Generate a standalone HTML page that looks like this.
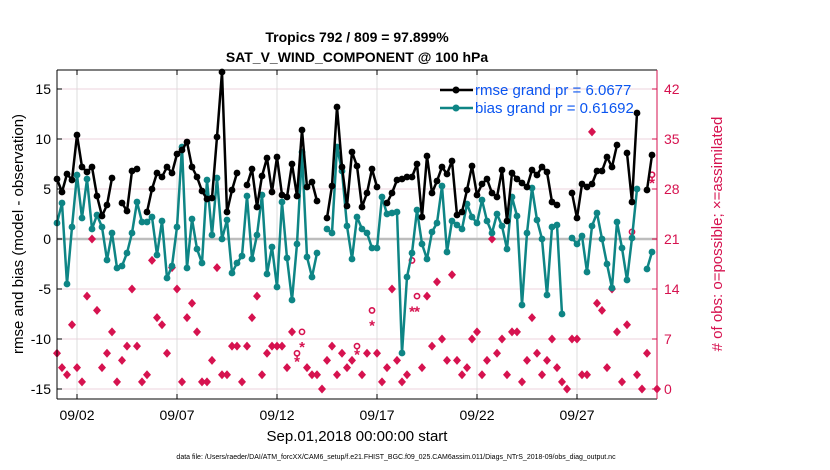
<!DOCTYPE html>
<html><head><meta charset="utf-8"><style>
html,body{margin:0;padding:0;background:#fff;}
svg{display:block;font-family:"Liberation Sans",Arial,sans-serif;}
</style></head><body>
<svg id="chart" width="830" height="470" viewBox="0 0 830 470" xmlns="http://www.w3.org/2000/svg">
<rect width="830" height="470" fill="#fff"/>
<text x="357" y="42" text-anchor="middle" font-size="14" font-weight="bold">Tropics 792 / 809 = 97.899%</text>
<text x="357" y="62" text-anchor="middle" font-size="14" font-weight="bold">SAT_V_WIND_COMPONENT @ 100 hPa</text>
<g id="grid"></g>
<g id="marks"></g>
<g id="axes"></g>
<text transform="translate(23,234) rotate(-90)" text-anchor="middle" font-size="15">rmse and bias (model - observation)</text>
<text transform="translate(722,234) rotate(-90)" text-anchor="middle" font-size="15" fill="#d6124f"># of obs: o=possible; ×=assimilated</text>
<text x="357" y="441" text-anchor="middle" font-size="15">Sep.01,2018 00:00:00 start</text>
<text x="396" y="459" text-anchor="middle" font-size="7">data file: /Users/raeder/DAI/ATM_forcXX/CAM6_setup/f.e21.FHIST_BGC.f09_025.CAM6assim.011/Diags_NTrS_2018-09/obs_diag_output.nc</text>
<g>
<line x1="440" y1="90" x2="473" y2="90" stroke="#000" stroke-width="2.5"/><circle cx="456" cy="90" r="3.5" fill="#000"/>
<text x="475" y="95" font-size="15" fill="#0a55f0">rmse grand pr = 6.0677</text>
<line x1="440" y1="108" x2="473" y2="108" stroke="#0e8585" stroke-width="2.5"/><circle cx="456" cy="108" r="3.5" fill="#0e8585"/>
<text x="475" y="113" font-size="15" fill="#0a55f0">bias grand pr = 0.61692</text>
</g>
</svg>
<script>
const N=null;
const rmse=[6.0,4.7,6.5,5.9,10.4,7.2,6.7,7.2,4.3,2.3,3.4,6.1,N,3.6,2.8,6.8,7.0,N,2.7,5.0,6.6,6.2,7.2,6.6,8.5,8.9,9.7,7.2,6.2,4.8,4.0,4.1,10.2,16.7,2.7,4.9,6.6,N,5.4,7.0,3.2,6.3,8.1,4.7,8.2,4.4,4.2,7.5,4.3,10.9,5.2,5.7,3.8,N,2.1,5.3,13.2,7.2,3.3,8.7,7.3,3.2,4.6,7.0,5.2,N,3.6,4.6,5.9,6.0,6.2,6.2,7.5,2.2,8.3,4.6,5.8,7.2,6.5,7.8,2.4,2.7,4.9,7.3,4.4,5.5,6.0,4.6,4.2,6.9,1.8,6.6,6.0,5.6,5.2,6.9,6.4,7.2,6.7,3.7,3.4,N,N,4.6,2.1,5.5,5.2,5.5,6.8,6.8,8.2,7.2,9.4,N,8.6,3.7,12.6,N,4.9,8.4,N];
const bias=[1.6,3.6,-4.5,1.2,6.4,2.1,6.0,1.0,2.4,1.2,-2.1,0.6,-2.9,-2.7,-1.4,0.6,3.7,1.7,1.7,2.2,-1.6,1.8,-3.9,-2.7,1.2,9.2,-2.9,2.0,-1.0,-2.4,5.9,0.4,6.1,0.0,1.9,-3.4,-2.4,-1.7,4.3,-2.0,0.4,4.4,-3.5,-0.8,-4.8,3.7,-1.9,-6.1,-0.5,8.7,-1.8,-3.8,-1.4,N,1.0,0.6,9.2,6.8,1.3,-2.0,2.2,1.0,0.6,-0.9,-0.9,4.2,2.5,2.6,2.7,-11.4,-3.8,-1.4,2.9,-0.5,-2.0,0.7,1.6,5.3,-1.3,1.8,1.4,1.0,3.5,2.2,1.6,3.9,1.8,0.6,2.5,1.3,-1.0,4.2,2.3,-6.6,0.6,5.1,1.9,0.0,-5.6,1.2,1.4,-7.5,N,0.1,-0.5,0.3,-3.3,1.3,2.6,0.0,-2.5,-4.9,1.7,-0.9,-4.1,0.1,5.0,N,-3.0,-1.3,N];
const nAssim=[5,3,2,9,3,1,13,21,11,3,5,8,1,4,6,14,6,1,2,18,10,9,5,17,14,1,10,12,8,1,1,4,17,2,2,6,6,1,6,10,13,2,5,6,6,6,3,8,4,6,3,2,2,0,4,6,2,5,3,4,5,2,5,9,5,1,3,14,4,1,2,11,11,3,13,6,15,7,4,16,4,2,3,7,8,2,4,21,5,7,2,8,8,1,4,10,5,2,4,7,3,1,0,7,7,2,2,36,12,11,3,14,8,1,9,21,2,0,5,29,0];
const nPoss=[5,3,2,9,3,1,13,21,11,3,5,8,1,4,6,14,6,1,2,18,10,9,5,17,14,1,10,12,8,1,1,4,17,2,2,6,6,1,6,10,13,2,5,6,6,6,3,8,5,8,3,2,2,0,4,6,2,5,3,4,6,2,5,11,5,1,3,14,4,1,2,18,13,3,13,6,15,7,4,16,4,2,3,7,8,2,4,21,5,7,2,8,8,1,4,10,5,2,4,7,3,1,0,7,7,2,2,36,12,11,3,14,8,1,9,22,2,0,5,30,0];
const leftTicks=[15,10,5,0,-5,-10,-15];
const rightTicks=[0,7,14,21,28,35,42];
const dateLabels=["09/02","09/07","09/12","09/17","09/22","09/27"];
const dateDays=[1,6,11,16,21,26];

const X0=57,X1=657,Y0=70,Y1=399;
const xIdx=i=>X0+i*5;          // 6-hourly steps, 20px/day
const xDay=d=>X0+d*20;
const yL=v=>239-v*10;
const yR=c=>389-c*(150/21);
const NS="http://www.w3.org/2000/svg";
function mk(tag,attrs,parent){const e=document.createElementNS(NS,tag);for(const k in attrs)e.setAttribute(k,attrs[k]);parent.appendChild(e);return e;}
const grid=document.getElementById('grid'),marks=document.getElementById('marks'),axes=document.getElementById('axes');
const MAG="#d6124f",TEAL="#0e8585";

leftTicks.forEach(v=>{const l=mk('line',{x1:X0,x2:X1,y1:yL(v),y2:yL(v),stroke:'#ecd3dc','stroke-width':1},grid);

});
dateDays.forEach(d=>{const l=mk('line',{x1:xDay(d),x2:xDay(d),y1:Y0,y2:Y1,stroke:'#dcdcdc','stroke-width':1},grid);

});
const zl=mk('line',{x1:X0,x2:X1,y1:yL(0),y2:yL(0),stroke:'#bdbdbd','stroke-width':2.5},grid);



// obs counts
nPoss.forEach((c,i)=>{if(c!==nAssim[i]){const e=mk('circle',{cx:xIdx(i),cy:yR(c),r:2.6,fill:'none',stroke:MAG,'stroke-width':1.6},marks);

}});
nAssim.forEach((c,i)=>{const x=xIdx(i),y=yR(c);let e;
if(c!==nPoss[i]){e=mk('text',{x:x,y:y+6,'text-anchor':'middle','font-size':15,'font-weight':'bold',fill:MAG},marks);e.textContent='*';}
else{e=mk('path',{d:`M${x},${y-4.5}L${x+4},${y}L${x},${y+4.5}L${x-4},${y}Z`,fill:MAG},marks);}

});

function series(vals,color,name){
  let segs=[],cur=[];
  vals.forEach((v,i)=>{if(v===null){if(cur.length)segs.push(cur);cur=[];}else cur.push([xIdx(i),yL(v)]);});
  if(cur.length)segs.push(cur);
  segs.forEach(s=>{if(s.length>1){const p=mk('polyline',{points:s.map(q=>q.join(',')).join(' '),fill:'none',stroke:color,'stroke-width':2.5,'stroke-linejoin':'round'},marks);
  
  }});
  vals.forEach((v,i)=>{if(v===null)return;const c=mk('circle',{cx:xIdx(i),cy:yL(v),r:3.4,fill:color},marks);
  
  });
}
series(bias,TEAL,'bias');
series(rmse,'#000','rmse');

// axes frame
let a=mk('line',{x1:X0,x2:X1,y1:Y0,y2:Y0,stroke:'#000','stroke-width':1},axes);
a=mk('line',{x1:X0,x2:X1,y1:Y1,y2:Y1,stroke:'#000','stroke-width':1},axes);
a=mk('line',{x1:X0,x2:X0,y1:Y0,y2:Y1,stroke:'#000','stroke-width':1},axes);
a=mk('line',{x1:X1,x2:X1,y1:Y0,y2:Y1,stroke:MAG,'stroke-width':1},axes);
leftTicks.forEach(v=>{mk('line',{x1:X0,x2:X0+5,y1:yL(v),y2:yL(v),stroke:'#000'},axes);
const t=mk('text',{x:X0-6,y:yL(v)+5,'text-anchor':'end','font-size':14},axes);t.textContent=v;

});
rightTicks.forEach(v=>{mk('line',{x1:X1-5,x2:X1,y1:yR(v),y2:yR(v),stroke:MAG},axes);
const t=mk('text',{x:X1+7,y:yR(v)+5,'font-size':14,fill:MAG},axes);t.textContent=v;

});
dateLabels.forEach((lab,k)=>{const x=xDay(dateDays[k]);mk('line',{x1:x,x2:x,y1:Y1,y2:Y1-5,stroke:'#000'},axes);mk('line',{x1:x,x2:x,y1:Y0,y2:Y0+5,stroke:'#000'},axes);
const t=mk('text',{x:x,y:420,'text-anchor':'middle','font-size':14},axes);t.textContent=lab;

});
</script>
</body></html>
